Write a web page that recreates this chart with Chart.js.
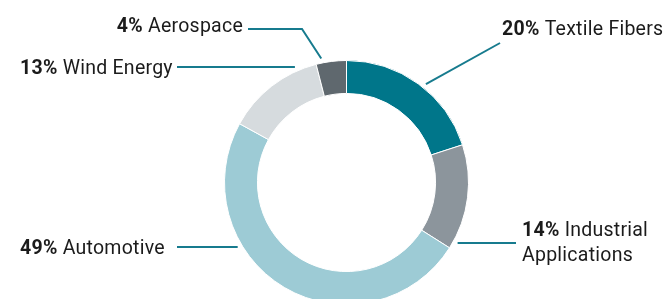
<!DOCTYPE html>
<html>
<head>
<meta charset="utf-8">
<script src="https://cdn.jsdelivr.net/npm/chart.js@4.4.1/dist/chart.umd.min.js"></script>
<style>
  html, body { margin: 0; padding: 0; background: #fff; overflow: hidden; }
  .wrap { width: 667px; height: 320px; }
</style>
</head>
<body>
<div class="wrap"><canvas id="donut" width="667" height="320"></canvas></div>
<script>
// market share by application (%)
const categories = ['Textile Fibers', 'Industrial Applications', 'Automotive', 'Wind Energy', 'Aerospace'];
const shares = [20, 14, 49, 13, 4];
const labelLines = [['Textile Fibers'], ['Industrial', 'Applications'], ['Automotive'], ['Wind Energy'], ['Aerospace']];
const sliceColors = ['#00768a', '#8c959c', '#9dcbd5', '#d6dbde', '#5f686e'];

// where each callout text sits and how its leader runs to the ring
const callouts = [
  { x: 502, y: 35, align: 'left', path: [[500, 43]], frac: 0.54 },
  { x: 522, y: 236, align: 'left', path: [[516, 243]], horiz: true },
  { x: 20, y: 254, align: 'left', path: [[177, 247]], horiz: true },
  { x: 20, y: 74, align: 'left', path: [[177, 67]], horiz: true },
  { x: 243, y: 32, align: 'right', path: [[248, 29], [302, 29]], frac: 0.2 },
];

const FONT = 'Roboto, "Liberation Sans", sans-serif';
const FS = 19.5;

const calloutPlugin = {
  id: 'callouts',
  afterDraw(chart) {
    const ctx = chart.ctx;
    const arcs = chart.getDatasetMeta(0).data;
    ctx.save();
    arcs.forEach((arc, i) => {
      const c = callouts[i];
      const r = arc.outerRadius + 4.5;
      const pts = c.path.slice();
      const last = pts[pts.length - 1];
      let end;
      if (c.horiz) {
        const dy = last[1] - arc.y;
        const mid = (arc.startAngle + arc.endAngle) / 2;
        const side = Math.cos(mid) >= 0 ? 1 : -1;
        end = [arc.x + side * Math.sqrt(r * r - dy * dy), last[1]];
      } else {
        const a = arc.startAngle + c.frac * (arc.endAngle - arc.startAngle);
        end = [arc.x + r * Math.cos(a), arc.y + r * Math.sin(a)];
      }
      pts.push(end);
      ctx.strokeStyle = '#177b8e';
      ctx.lineWidth = 2;
      ctx.beginPath();
      ctx.moveTo(pts[0][0], pts[0][1]);
      for (let k = 1; k < pts.length; k++) ctx.lineTo(pts[k][0], pts[k][1]);
      ctx.stroke();

      // text: bold percentage + regular name
      ctx.fillStyle = '#1b1b1b';
      ctx.textBaseline = 'alphabetic';
      ctx.textAlign = 'left';
      ctx.letterSpacing = '0.25px';
      const pct = shares[i] + '%';
      const lines = labelLines[i];
      ctx.font = 'bold ' + FS + 'px ' + FONT;
      const pw = ctx.measureText(pct + ' ').width;
      ctx.font = FS + 'px ' + FONT;
      const nw = ctx.measureText(lines[0]).width;
      let x0 = c.align === 'right' ? c.x - pw - nw : c.x;
      ctx.font = 'bold ' + FS + 'px ' + FONT;
      ctx.fillText(pct, x0, c.y);
      ctx.font = FS + 'px ' + FONT;
      ctx.fillText(lines[0], x0 + pw, c.y);
      for (let k = 1; k < lines.length; k++) ctx.fillText(lines[k], x0, c.y + 25 * k);
    });
    ctx.restore();
  }
};

new Chart(document.getElementById('donut'), {
  type: 'doughnut',
  data: {
    labels: categories,
    datasets: [{
      data: shares,
      backgroundColor: sliceColors,
      borderColor: '#ffffff',
      borderWidth: 1,
      hoverOffset: 0,
    }],
  },
  options: {
    responsive: false,
    animation: false,
    cutout: '73%',
    layout: { padding: { left: 224, right: 198, top: 60, bottom: 15 } },
    plugins: {
      legend: { display: false },
      tooltip: { enabled: false },
    },
  },
  plugins: [calloutPlugin],
});
</script>
</body>
</html>
